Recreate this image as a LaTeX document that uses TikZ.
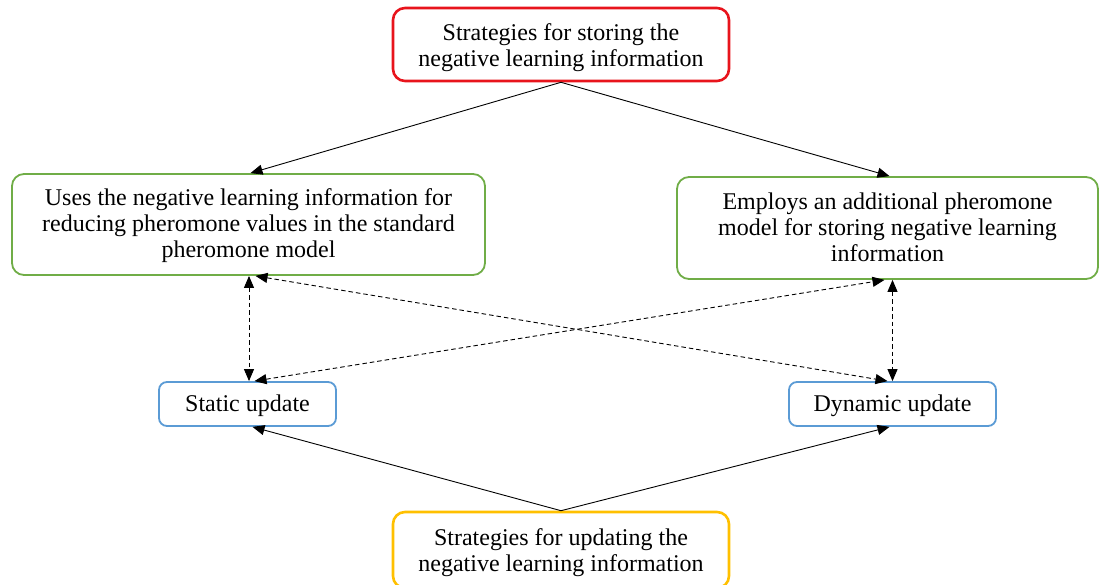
\documentclass[tikz,border=0pt]{standalone}
\usepackage{fontspec}
\setmainfont{Liberation Serif}
\usetikzlibrary{arrows.meta}
\definecolor{boxred}{RGB}{232,20,28}
\definecolor{boxgreen}{RGB}{112,173,71}
\definecolor{boxblue}{RGB}{91,155,213}
\definecolor{boxgold}{RGB}{255,192,0}
\begin{document}
\begin{tikzpicture}[x=1pt,y=-1pt,
  box/.style={draw, rounded corners=12pt, line width=1.8pt, inner sep=0pt, fill=white},
  txt/.style={align=center, inner sep=0pt, text=black,
    font=\fontsize{24}{26}\selectfont},
  arr/.style={line width=0.9pt, -{Triangle[length=12pt,width=10pt]}},
  darr/.style={line width=0.9pt, dash pattern=on 4.5pt off 3pt,
    {Triangle[length=12pt,width=10pt]}-{Triangle[length=12pt,width=10pt]}}]
\useasboundingbox (0,0) rectangle (1099,585);

% strategy boxes
\node[box, draw=boxred, line width=2.6pt, minimum width=336pt, minimum height=73pt]
  (store) at (561,44.5) {};
\node[txt] (storeT) at ([yshift=-3pt]store.center)
  {Strategies for storing the\\negative learning information};
\node[box, draw=boxgold, line width=2.6pt, minimum width=336pt, minimum height=76pt]
  (upd) at (561,550) {};
\node[txt] (updT) at ([yshift=-3pt]upd.center)
  {Strategies for updating the\\negative learning information};

% pheromone model boxes
\node[box, draw=boxgreen, minimum width=473pt, minimum height=101pt]
  (uses) at (248.5,224.5) {};
\node[txt] (usesT) at ([yshift=-1.5pt]uses.center)
  {Uses the negative learning information for\\reducing pheromone values in the standard\\pheromone model};
\node[box, draw=boxgreen, minimum width=421pt, minimum height=102pt]
  (addl) at (887.5,228) {};
\node[txt] (addlT) at ([yshift=0.5pt]addl.center)
  {Employs an additional pheromone\\model for storing negative learning\\information};

% update boxes
\node[box, draw=boxblue, rounded corners=8pt, minimum width=177pt, minimum height=44pt]
  (static) at (247.5,404) {};
\node[txt] (staticT) at ([yshift=-1.5pt]static.center) {Static update};
\node[box, draw=boxblue, rounded corners=8pt, minimum width=207pt, minimum height=44pt]
  (dyn) at (892.5,404) {};
\node[txt] (dynT) at ([yshift=-1.5pt]dyn.center) {Dynamic update};

% solid connectors
\draw[arr] (store.south) -- ([xshift=2pt]uses.north);
\draw[arr] (store.south) -- ([xshift=2pt]addl.north);
\draw[arr] (upd.north) -- ([xshift=5pt]static.south);
\draw[arr] (upd.north) -- ([xshift=-3pt]dyn.south);

% dashed two-way connectors
\draw[darr] ([xshift=1.5pt]static.north |- uses.south) -- ([xshift=1.5pt]static.north);
\draw[darr] (dyn.north |- addl.south) -- (dyn.north);
\draw[darr] ([xshift=7pt]uses.south) -- ([xshift=-5pt]dyn.north);
\draw[darr] ([xshift=7pt]static.north) -- ([xshift=-3pt]addl.south);
\end{tikzpicture}
\end{document}
